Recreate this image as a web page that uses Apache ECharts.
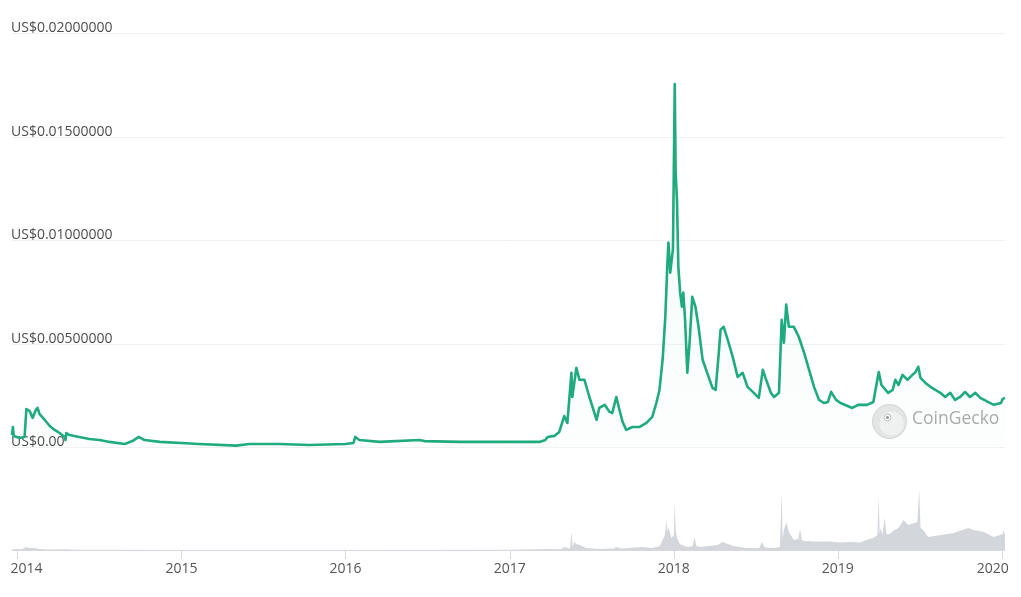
<!DOCTYPE html>
<html><head><meta charset="utf-8">
<script src="https://cdn.jsdelivr.net/npm/echarts@6/dist/echarts.min.js"></script>
<style>html,body{margin:0;padding:0;background:#fff}#c{width:1021px;height:597px}</style>
</head><body><div id="c"></div>
<script>
const priceDates = [
 '2013-12-20','2013-12-22','2013-12-24','2014-01-06','2014-01-17','2014-01-21','2014-01-28','2014-02-04','2014-02-11','2014-02-15',
 '2014-02-19','2014-03-03','2014-03-14','2014-03-25','2014-04-05','2014-04-16','2014-04-18','2014-04-20','2014-04-27','2014-05-19',
 '2014-06-10','2014-07-03','2014-07-25','2014-08-28','2014-09-14','2014-09-28','2014-10-11','2014-11-14','2015-01-01','2015-02-09',
 '2015-05-03','2015-06-01','2015-08-07','2015-10-13','2016-01-01','2016-01-19','2016-01-23','2016-02-01','2016-03-17','2016-06-14',
 '2016-06-25','2016-09-11','2016-12-09','2017-01-01','2017-03-08','2017-03-21','2017-03-26','2017-04-10','2017-04-21','2017-05-02',
 '2017-05-09','2017-05-18','2017-05-20','2017-05-29','2017-06-05','2017-06-16','2017-06-27','2017-07-04','2017-07-13','2017-07-19',
 '2017-07-31','2017-08-11','2017-08-17','2017-08-26','2017-09-02','2017-09-09','2017-09-17','2017-10-01','2017-10-16','2017-11-01',
 '2017-11-14','2017-11-23','2017-11-30','2017-12-07','2017-12-13','2017-12-18','2017-12-20','2017-12-24','2017-12-30','2018-01-03',
 '2018-01-05','2018-01-08','2018-01-11','2018-01-15','2018-01-19','2018-01-22','2018-01-26','2018-01-31','2018-02-05','2018-02-11',
 '2018-02-18','2018-02-25','2018-03-06','2018-03-17','2018-03-28','2018-04-04','2018-04-11','2018-04-15','2018-04-22','2018-05-01',
 '2018-05-12','2018-05-23','2018-06-03','2018-06-14','2018-06-28','2018-07-09','2018-07-18','2018-07-24','2018-08-05','2018-08-12',
 '2018-08-23','2018-08-29','2018-09-03','2018-09-08','2018-09-14','2018-09-25','2018-10-06','2018-10-18','2018-10-29','2018-11-09',
 '2018-11-20','2018-12-01','2018-12-10','2018-12-17','2018-12-28','2019-01-07','2019-02-02','2019-02-15','2019-03-07','2019-03-21',
 '2019-04-02','2019-04-08','2019-04-23','2019-05-03','2019-05-09','2019-05-16','2019-05-25','2019-06-05','2019-06-16','2019-06-23',
 '2019-06-29','2019-07-04','2019-07-15','2019-07-26','2019-08-06','2019-08-17','2019-08-28','2019-09-08','2019-09-19','2019-09-30',
 '2019-10-11','2019-10-22','2019-11-03','2019-11-14','2019-12-01','2019-12-14','2019-12-30','2020-01-03','2020-01-08'
];
const priceValues = [
 0.00060,0.00099,0.00056,0.00046,0.00051,0.00186,0.00177,0.00143,0.00181,0.00191,
 0.00162,0.00133,0.00104,0.00085,0.00070,0.00051,0.00036,0.00070,0.00060,0.00051,
 0.00041,0.00036,0.00027,0.00017,0.00031,0.00051,0.00036,0.00027,0.00022,0.00017,
 0.00009,0.00017,0.00017,0.00012,0.00017,0.00022,0.00051,0.00036,0.00027,0.00036,
 0.00031,0.00027,0.00027,0.00027,0.00027,0.00036,0.00051,0.00056,0.00075,0.00152,
 0.00119,0.00361,0.00244,0.00385,0.00327,0.00327,0.00244,0.00196,0.00133,0.00191,
 0.00206,0.00172,0.00167,0.00244,0.00181,0.00123,0.00085,0.00099,0.00099,0.00119,
 0.00148,0.00215,0.00278,0.00424,0.00632,0.00908,0.00990,0.00845,0.00960,0.01756,
 0.01330,0.01190,0.00874,0.00748,0.00680,0.00748,0.00617,0.00361,0.00506,0.00728,
 0.00680,0.00583,0.00424,0.00356,0.00288,0.00278,0.00457,0.00569,0.00583,0.00520,
 0.00438,0.00341,0.00361,0.00293,0.00264,0.00240,0.00375,0.00336,0.00264,0.00244,
 0.00264,0.00617,0.00506,0.00690,0.00583,0.00583,0.00535,0.00457,0.00375,0.00293,
 0.00230,0.00215,0.00220,0.00269,0.00230,0.00215,0.00191,0.00206,0.00206,0.00220,
 0.00365,0.00302,0.00264,0.00278,0.00327,0.00302,0.00351,0.00327,0.00351,0.00365,
 0.00390,0.00336,0.00312,0.00293,0.00278,0.00264,0.00244,0.00264,0.00230,0.00244,
 0.00269,0.00244,0.00264,0.00240,0.00220,0.00206,0.00215,0.00235,0.00240
];
const volumeDates = [
 '2013-12-20','2013-12-28','2014-01-10','2014-01-21','2014-01-28','2014-02-08','2014-02-19','2014-03-10','2014-04-20','2014-05-10',
 '2014-08-01','2015-01-01','2016-01-01','2017-01-01','2017-03-30','2017-04-25','2017-05-02','2017-05-15','2017-05-18','2017-05-21',
 '2017-05-24','2017-05-29','2017-06-05','2017-06-20','2017-07-19','2017-08-20','2017-08-26','2017-09-05','2017-09-24','2017-10-23',
 '2017-11-14','2017-12-01','2017-12-07','2017-12-12','2017-12-16','2017-12-18','2017-12-20','2017-12-27','2018-01-01','2018-01-03',
 '2018-01-05','2018-01-08','2018-01-14','2018-01-31','2018-02-12','2018-02-16','2018-02-20','2018-03-01','2018-04-08','2018-04-19',
 '2018-05-01','2018-05-14','2018-06-10','2018-07-10','2018-07-16','2018-07-22','2018-08-12','2018-08-25','2018-08-29','2018-08-31',
 '2018-09-03','2018-09-08','2018-09-14','2018-09-25','2018-10-05','2018-10-09','2018-10-13','2018-10-18','2018-11-13','2018-12-12',
 '2019-01-07','2019-01-29','2019-02-20','2019-03-05','2019-03-21','2019-03-30','2019-04-02','2019-04-04','2019-04-06','2019-04-10',
 '2019-04-15','2019-04-19','2019-04-26','2019-05-07','2019-05-16','2019-05-27','2019-06-07','2019-06-20','2019-06-27','2019-07-01',
 '2019-07-04','2019-07-10','2019-07-21','2019-08-19','2019-09-16','2019-10-18','2019-10-31','2019-11-22','2019-12-14','2020-01-03',
 '2020-01-05','2020-01-08'
];
const volumeValues = [
 5,10,8,30,20,20,10,5,8,3,
 2,1,1,2,10,8,30,12,180,30,
 80,60,50,20,10,15,30,15,20,30,
 20,40,100,150,300,180,220,120,150,500,
 200,120,60,30,40,130,40,30,50,80,
 60,40,20,20,80,25,20,30,580,120,
 200,280,180,100,110,210,100,90,85,85,
 75,80,75,100,120,150,540,160,220,150,
 320,160,160,200,220,300,250,270,280,610,
 220,200,130,150,170,220,200,180,130,160,
 200,150
];
const yearLabels = ['2014','2015','2016','2017','2018','2019','2020'];
const yTicks = [0, 0.005, 0.01, 0.015, 0.02];

const chart = echarts.init(document.getElementById('c'), null, {renderer: 'canvas'});
const xMin = '2013-12-20', xMax = '2020-01-08';
const priceData = priceDates.map((d, i) => [d, priceValues[i]]);
const volData = volumeDates.map((d, i) => [d, volumeValues[i]]);
const yearMs = 365 * 24 * 3600 * 1000;
const font = '"Open Sans", "Noto Sans", sans-serif';

chart.setOption({
  animation: false,
  backgroundColor: '#ffffff',
  grid: [
    {left: 12, right: 16, top: 33.5, height: 414},
    {left: 12, right: 16, top: 480, height: 70}
  ],
  xAxis: [
    {type: 'time', gridIndex: 0, min: xMin, max: xMax, show: false,
     minInterval: yearMs, maxInterval: yearMs, splitLine: {show: false}},
    {type: 'time', gridIndex: 1, min: xMin, max: xMax,
     minInterval: yearMs, maxInterval: yearMs,
     splitLine: {show: false},
     axisLine: {show: true, lineStyle: {color: '#d6d8e6', width: 1}},
     axisTick: {show: true, length: 9, lineStyle: {color: '#d6d8e6'}},
     axisLabel: {
       color: '#555', fontSize: 14, fontFamily: font, margin: 12,
       formatter: function (v) {
         const y = String(new Date(v).getFullYear());
         if (yearLabels.indexOf(y) < 0) return '';
         if (y === yearLabels[0]) return '{l|' + y + '}';
         if (y === yearLabels[yearLabels.length - 1]) return '{r|' + y + '}';
         return y;
       },
       rich: {
         l: {color: '#555', fontSize: 14, fontFamily: font, padding: [0, 0, 0, 18]},
         r: {color: '#555', fontSize: 14, fontFamily: font, padding: [0, 18, 0, 0]}
       }
     }}
  ],
  yAxis: [
    {type: 'value', gridIndex: 0, min: yTicks[0], max: yTicks[yTicks.length - 1], interval: yTicks[1] - yTicks[0],
     axisLine: {show: false}, axisTick: {show: false},
     splitLine: {show: true, lineStyle: {color: '#f0f0f0', width: 1}},
     axisLabel: {
       inside: true, margin: -1, verticalAlign: 'bottom', lineHeight: 10,
       color: '#4d4d4d', fontSize: 14, fontFamily: font,
       formatter: function (v) { return v === 0 ? 'US$0.00' : 'US$' + v.toFixed(8); }
     }},
    {type: 'value', gridIndex: 1, min: 0, max: 700, show: false, splitLine: {show: false}}
  ],
  series: [
    {type: 'line', xAxisIndex: 1, yAxisIndex: 1, data: volData, showSymbol: false, symbol: 'none',
     lineStyle: {width: 0, color: '#d3d6db'},
     areaStyle: {color: '#d3d6db', opacity: 1}},
    {type: 'line', xAxisIndex: 0, yAxisIndex: 0, data: priceData, showSymbol: false, symbol: 'none',
     z: 3,
     lineStyle: {width: 2.6, color: '#1fab7d', join: 'round'},
     itemStyle: {color: '#1fab7d'},
     areaStyle: {color: new echarts.graphic.LinearGradient(0, 0, 0, 1, [
       {offset: 0, color: 'rgba(60,190,130,0.10)'},
       {offset: 1, color: 'rgba(60,190,130,0.02)'}
     ])}}
  ],
  graphic: [
    {type: 'group', left: 872, top: 404, z: 1, children: [
      {type: 'circle', shape: {cx: 17, cy: 17, r: 17}, style: {fill: '#e6e6e6', stroke: '#d6d6d6', lineWidth: 1}},
      {type: 'circle', shape: {cx: 19, cy: 19, r: 12}, style: {fill: '#f2f2f2'}},
      {type: 'circle', shape: {cx: 15, cy: 13, r: 3.4}, style: {fill: '#ffffff', stroke: '#c4c4c4', lineWidth: 1}},
      {type: 'circle', shape: {cx: 15, cy: 13, r: 1.5}, style: {fill: '#939393'}}
    ]},
    {type: 'text', left: 912, top: 410, z: 1,
     style: {text: 'CoinGecko', fill: '#ababab', font: '17.5px "Open Sans", "Noto Sans", sans-serif'}}
  ]
});
</script>
</body></html>
